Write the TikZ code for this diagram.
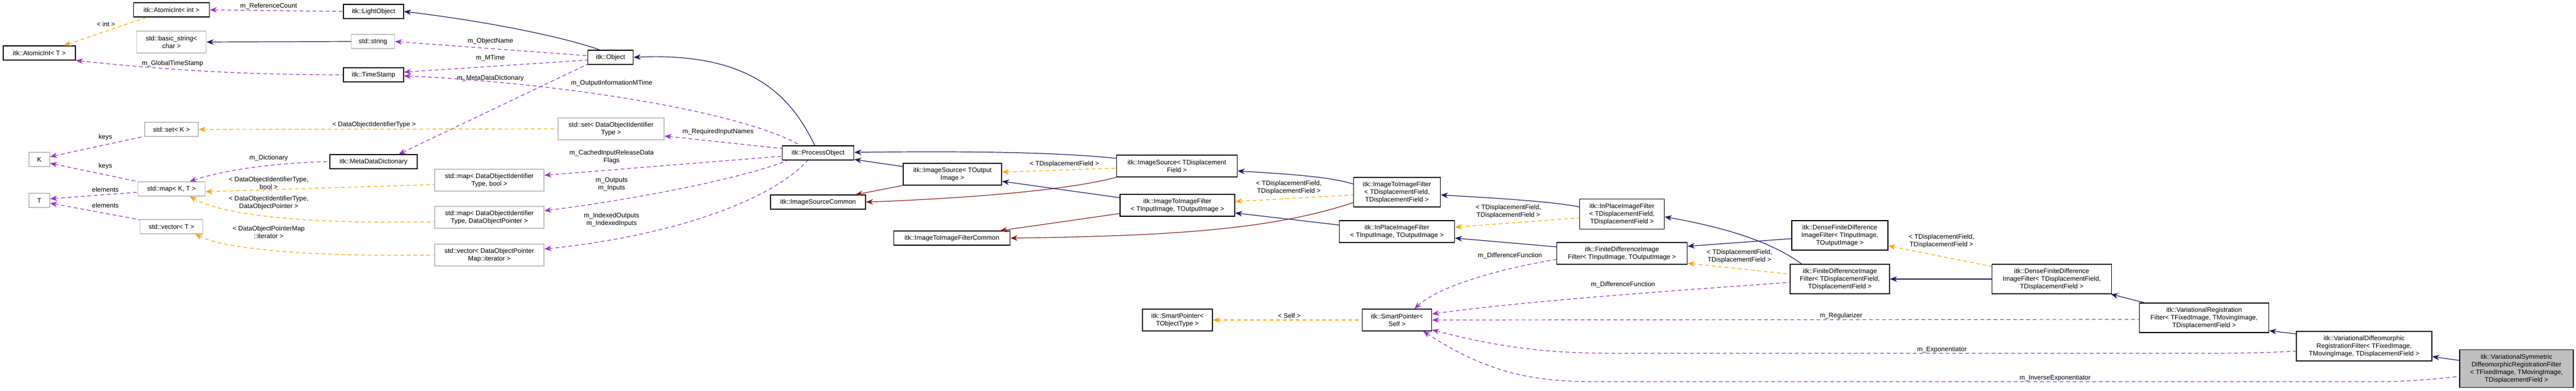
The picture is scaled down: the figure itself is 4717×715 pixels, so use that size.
\documentclass[tikz,border=0pt]{standalone}
\usepackage{fontspec}
\setmainfont{Liberation Sans}
\usetikzlibrary{arrows.meta,calc}
\definecolor{inhc}{HTML}{191970}
\definecolor{prc}{HTML}{8B1A1A}
\definecolor{tmc}{HTML}{FFA500}
\definecolor{usc}{HTML}{9A32CD}
\definecolor{gbc}{HTML}{BFBFBF}
\begin{document}
\begin{tikzpicture}[x=1pt,y=-1pt,
  font=\fontsize{12}{14}\selectfont,
  box/.style={draw=black,line width=1.3pt,fill=white,align=center,inner sep=1pt},
  gbox/.style={draw=gbc,line width=1.3pt,fill=white,align=center,inner sep=1pt},
  lbl/.style={align=center,inner sep=0pt},
  tip/.style={{Stealth[length=13pt,width=10pt]}-},
  inh/.style={tip,draw=inhc,line width=1.2pt},
  prv/.style={tip,draw=prc,line width=1.2pt},
  tmp/.style={tip,draw=tmc,line width=1.2pt,dash pattern=on 7pt off 5pt},
  use/.style={tip,draw=usc,line width=1.2pt,dash pattern=on 7pt off 5pt},
]
\useasboundingbox (0,0) rectangle (4717,715);
% nodes
\node[box,minimum width=139,minimum height=26] (aiint) at (314,18) {itk::AtomicInt< int >};
\node[box,minimum width=132,minimum height=26] (ait) at (72,97) {itk::AtomicInt< T >};
\node[gbox,minimum width=127,minimum height=40] (bs) at (314,77) {std::basic\_string<\\char >};
\node[box,minimum width=110,minimum height=26] (lo) at (684,21) {itk::LightObject};
\node[gbox,minimum width=79,minimum height=26] (ss) at (683,76) {std::string};
\node[box,minimum width=110,minimum height=26] (ts) at (684,137) {itk::TimeStamp};
\node[gbox,minimum width=98,minimum height=26] (sk) at (314,237) {std::set< K >};
\node[gbox,minimum width=38,minimum height=26] (K) at (72,292) {K};
\node[box,minimum width=160,minimum height=26] (mdd) at (684,296) {itk::MetaDataDictionary};
\node[gbox,minimum width=123,minimum height=26] (mk) at (314,346) {std::map< K, T >};
\node[gbox,minimum width=38,minimum height=26] (T) at (72,367) {T};
\node[gbox,minimum width=115,minimum height=26] (vt) at (314,415) {std::vector< T >};
\node[box,minimum width=83,minimum height=26] (obj) at (1118,105) {itk::Object};
\node[gbox,minimum width=194,minimum height=40] (sdoi) at (1119,236) {std::set< DataObjectIdentifier\\Type >};
\node[box,minimum width=131,minimum height=26] (po) at (1498,280) {itk::ProcessObject};
\node[gbox,minimum width=200,minimum height=40] (mb) at (896,330) {std::map< DataObjectIdentifier\\Type, bool >};
\node[gbox,minimum width=200,minimum height=40] (md) at (896,398) {std::map< DataObjectIdentifier\\Type, DataObjectPointer >};
\node[gbox,minimum width=200,minimum height=40] (vd) at (896,467) {std::vector< DataObjectPointer\\Map::iterator >};
\node[box,minimum width=174,minimum height=26] (isc) at (1498,370) {itk::ImageSourceCommon};
\node[box,minimum width=180,minimum height=40] (isto) at (1744,319) {itk::ImageSource< TOutput\\Image >};
\node[box,minimum width=213,minimum height=26] (itifc) at (1743,436) {itk::ImageToImageFilterCommon};
\node[box,minimum width=221,minimum height=40] (istdf) at (2155,304) {itk::ImageSource< TDisplacement\\Field >};
\node[box,minimum width=210,minimum height=40] (itifti) at (2156,376) {itk::ImageToImageFilter\\< TInputImage, TOutputImage >};
\node[box,minimum width=159,minimum height=54] (itiftdf) at (2558,352) {itk::ImageToImageFilter\\< TDisplacementField,\\TDisplacementField >};
\node[box,minimum width=211,minimum height=40] (ipifti) at (2558,424) {itk::InPlaceImageFilter\\< TInputImage, TOutputImage >};
\node[box,minimum width=128,minimum height=40] (spt) at (2156,586) {itk::SmartPointer<\\TObjectType >};
\node[box,minimum width=127,minimum height=40] (sps) at (2558,586) {itk::SmartPointer<\\Self >};
\node[box,minimum width=155,minimum height=55] (ipiftdf) at (2970,392) {itk::InPlaceImageFilter\\< TDisplacementField,\\TDisplacementField >};
\node[box,minimum width=239,minimum height=40] (fdifti) at (2970,464) {itk::FiniteDifferenceImage\\Filter< TInputImage, TOutputImage >};
\node[box,minimum width=176,minimum height=54] (dfdifti) at (3369,431) {itk::DenseFiniteDifference\\ImageFilter< TInputImage,\\TOutputImage >};
\node[box,minimum width=182,minimum height=54] (fdiftdf) at (3369,511) {itk::FiniteDifferenceImage\\Filter< TDisplacementField,\\TDisplacementField >};
\node[box,minimum width=219,minimum height=54] (dfdiftdf) at (3757,511) {itk::DenseFiniteDifference\\ImageFilter< TDisplacementField,\\TDisplacementField >};
\node[box,minimum width=237,minimum height=54] (vrf) at (4036,582) {itk::VariationalRegistration\\Filter< TFixedImage, TMovingImage,\\TDisplacementField >};
\node[box,minimum width=248,minimum height=54] (vdrf) at (4329,634) {itk::VariationalDiffeomorphic\\RegistrationFilter< TFixedImage,\\TMovingImage, TDisplacementField >};
\node[box,fill=gbc,minimum width=208,minimum height=69] (vsdrf) at (4608,675) {itk::VariationalSymmetric\\DiffeomorphicRegistrationFilter\\< TFixedImage, TMovingImage,\\TDisplacementField >};
% inheritance
\draw[inh] (lo.east) .. controls (900,40) and (1040,70) .. ([xshift=-20]obj.north);
\draw[inh] (bs.east) -- (ss.west);
\draw[inh] (obj.east) .. controls (1380,95) and (1450,180) .. ([xshift=-6]po.north);
\draw[inh] ([yshift=1]po.east) .. controls (1800,276) and (1950,280) .. ([yshift=14]istdf.west);
\draw[inh] ([yshift=-12]po.east) -- ([yshift=14]isto.west);
\draw[prv] ([xshift=-19]isc.north east) -- (isto.south west);
\draw[prv] (isc.east) .. controls (1750,364) and (1950,350) .. (istdf.south west);
\draw[tmp] ([yshift=4]isto.east) -- ([yshift=-4]istdf.west);
\draw[inh] ([yshift=-13]isto.east) -- ([yshift=14]itifti.west);
\draw[prv] ([xshift=-19]itifc.north east) -- ([yshift=-15]itifti.west);
\draw[prv] (itifc.east) .. controls (2150,432) and (2330,420) .. ([yshift=-19]itiftdf.west);
\draw[inh] ([yshift=-9]istdf.east) .. controls (2380,320) and (2440,325) .. ([yshift=15]itiftdf.west);
\draw[tmp] ([yshift=7]itifti.east) -- ([yshift=-5]itiftdf.west);
\draw[inh] ([yshift=-14]itifti.east) -- ([yshift=12]ipifti.west);
\draw[inh] ([yshift=-5]itiftdf.east) .. controls (2760,364) and (2850,370) .. ([yshift=13]ipiftdf.west);
\draw[tmp] ([yshift=8]ipifti.east) -- ([yshift=-7]ipiftdf.west);
\draw[inh] ([yshift=-12]ipifti.east) -- ([yshift=12]fdifti.west);
\draw[inh] ([yshift=-5]ipiftdf.east) .. controls (3150,415) and (3240,440) .. ([xshift=-70]fdiftdf.north);
\draw[inh] ([yshift=13]fdifti.east) -- ([yshift=-6]dfdifti.west);
\draw[tmp] ([yshift=-18]fdifti.east) -- ([yshift=9]fdiftdf.west);
\draw[tmp] ([yshift=-19]dfdifti.east) -- ([yshift=23]dfdiftdf.west);
\draw[inh] (fdiftdf.east) -- (dfdiftdf.west);
\draw[inh] ([xshift=-2]dfdiftdf.south east) -- ([xshift=10]vrf.north west);
\draw[inh] ([yshift=4]vrf.south east) -- ([yshift=-5]vdrf.north west);
\draw[inh] ([yshift=-19]vdrf.east) -- ([yshift=15]vsdrf.west);
% usage / template
\draw[use] (aiint.east) -- (lo.west);
\draw[tmp] ([xshift=45]ait.north) -- ([xshift=25]aiint.south west);
\draw[use] (ait.south east) .. controls (300,128) and (450,137) .. (ts.west);
\draw[use] (ss.east) -- ([yshift=3]obj.west);
\draw[use] ([yshift=5]ts.east) -- ([yshift=-5]obj.west);
\draw[use] ([yshift=-2]ts.east) .. controls (1000,150) and (1350,200) .. ([xshift=-32]po.north);
\draw[use] ([xshift=46]mdd.north) -- ([yshift=1]obj.south west);
\draw[tmp] (sk.east) -- (sdoi.west);
\draw[use] ([yshift=5]K.east) -- ([yshift=1]sk.south west);
\draw[use] ([yshift=-7]K.east) -- (mk.north west);
\draw[use] ([yshift=3]T.east) -- ([yshift=-6]mk.west);
\draw[use] ([yshift=-5]T.east) -- ([yshift=-1]vt.north west);
\draw[use] ([xshift=-29]mk.north east) .. controls (430,305) and (540,297) .. (mdd.west);
\draw[tmp] ([yshift=-5]mk.east) -- ([yshift=-8]mb.west);
\draw[tmp] ([xshift=-29]mk.south east) .. controls (420,400) and (600,410) .. ([yshift=-8]md.west);
\draw[tmp] ([xshift=-15]vt.south east) .. controls (420,460) and (600,470) .. (vd.west);
\draw[use] ([yshift=-13]sdoi.east) -- ([yshift=8]po.west);
\draw[use] ([yshift=9]mb.east) -- ([yshift=-6]po.west);
\draw[use] ([yshift=12]md.east) .. controls (1200,360) and (1380,320) .. ([xshift=10]po.south west);
\draw[use] ([yshift=11]vd.east) .. controls (1250,430) and (1420,360) .. ([xshift=-19]po.south);
\draw[tmp] (spt.east) -- (sps.west);
\draw[use] ([xshift=32]sps.north) .. controls (2640,520) and (2760,490) .. ([yshift=-11]fdifti.west);
\draw[use] ([yshift=11]sps.east) .. controls (2800,550) and (3100,530) .. ([yshift=-6]fdiftdf.west);
\draw[use] (sps.east) -- ([yshift=-3]vrf.west);
\draw[use] ([yshift=-18]sps.east) .. controls (2760,640) and (2850,647) .. (2960,647) -- (4050,647) .. controls (4120,647) and (4170,645) .. ([yshift=-9]vdrf.west);
\draw[use] ([xshift=48]sps.south) .. controls (2720,680) and (2800,699) .. (2920,699) -- (4340,699) .. controls (4420,699) and (4470,693) .. ([yshift=-14]vsdrf.west);
% labels
\node[lbl] (l1) at (492,11) {m\_ReferenceCount};
\node[lbl] (l2) at (194,44) {< int >};
\node[lbl] (l3) at (316,116) {m\_GlobalTimeStamp};
\node[lbl] (l4) at (685,228) {< DataObjectIdentifierType >};
\node[lbl] (l5) at (193,251) {keys};
\node[lbl] (l6) at (492,289) {m\_Dictionary};
\node[lbl] (l7) at (193,304) {keys};
\node[lbl] (l8) at (492,335) {< DataObjectIdentifierType,\\bool >};
\node[lbl] (l9) at (193,347) {elements};
\node[lbl] (l10) at (492,371) {< DataObjectIdentifierType,\\DataObjectPointer >};
\node[lbl] (l11) at (193,376) {elements};
\node[lbl] (l12) at (492,425) {< DataObjectPointerMap\\::iterator >};
\node[lbl] (l13) at (898,75) {m\_ObjectName};
\node[lbl] (l14) at (898,106) {m\_MTime};
\node[lbl] (l15) at (898,143) {m\_MetaDataDictionary};
\node[lbl] (l16) at (1120,152) {m\_OutputInformationMTime};
\node[lbl] (l17) at (1315,241) {m\_RequiredInputNames};
\node[lbl] (l18) at (1120,287) {m\_CachedInputReleaseData\\Flags};
\node[lbl] (l19) at (1120,338) {m\_Outputs\\m\_Inputs};
\node[lbl] (l20) at (1120,402) {m\_IndexedOutputs\\m\_IndexedInputs};
\node[lbl] (l21) at (1949,300) {< TDisplacementField >};
\node[lbl] (l22) at (2360,343) {< TDisplacementField,\\TDisplacementField >};
\node[lbl] (l23) at (2361,578) {< Self >};
\node[lbl] (l24) at (2762,387) {< TDisplacementField,\\TDisplacementField >};
\node[lbl] (l25) at (2765,468) {m\_DifferenceFunction};
\node[lbl] (l26) at (3185,469) {< TDisplacementField,\\TDisplacementField >};
\node[lbl] (l27) at (2972,521) {m\_DifferenceFunction};
\node[lbl] (l28) at (3555,441) {< TDisplacementField,\\TDisplacementField >};
\node[lbl] (l29) at (3371,578) {m\_Regularizer};
\node[lbl] (l30) at (3556,640) {m\_Exponentiator};
\node[lbl] (l31) at (3763,692) {m\_InverseExponentiator};
\end{tikzpicture}
\end{document}
